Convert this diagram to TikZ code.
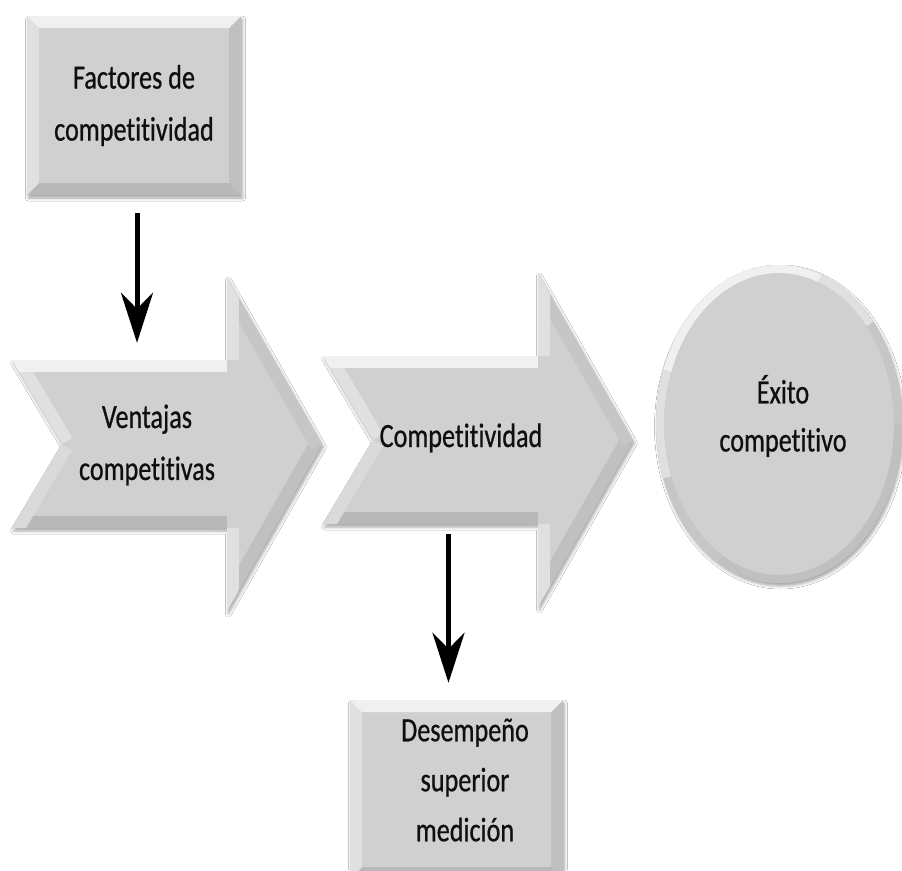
\documentclass[tikz,border=0pt]{standalone}
\usepackage{fontspec}
\setmainfont{Carlito}[FakeStretch=0.77, FakeBold=0.6, Ligatures=CommonOff]
\usetikzlibrary{arrows.meta,shapes.geometric,shadows.blur}
\definecolor{fillg}{RGB}{208,208,208}
\definecolor{bvtop}{RGB}{240,240,240}
\definecolor{bvleft}{RGB}{224,224,224}
\definecolor{bvlleft}{RGB}{218,218,218}
\definecolor{bvur}{RGB}{198,198,198}
\definecolor{bvright}{RGB}{192,192,192}
\definecolor{bvbot}{RGB}{184,184,184}
\definecolor{txt}{RGB}{15,15,15}
\tikzset{
  lbl/.style={font=\fontsize{34}{52}\selectfont, text=txt, align=center, inner sep=0pt},
  shad/.style={blur shadow={shadow xshift=1.5pt, shadow yshift=-3pt, shadow blur radius=3pt, shadow opacity=35}},
  bevelbox/.style={rectangle, fill=fillg, shad, inner sep=0pt, path picture={
      \fill[bvbot] (path picture bounding box.south west) -- (path picture bounding box.south east) -- ([shift={(-12pt,12pt)}]path picture bounding box.south east) -- ([shift={(12pt,12pt)}]path picture bounding box.south west) -- cycle;
      \fill[bvright] (path picture bounding box.north east) -- (path picture bounding box.south east) -- ([shift={(-12pt,12pt)}]path picture bounding box.south east) -- ([shift={(-12pt,-12pt)}]path picture bounding box.north east) -- cycle;
      \fill[bvleft] (path picture bounding box.north west) -- (path picture bounding box.south west) -- ([shift={(12pt,12pt)}]path picture bounding box.south west) -- ([shift={(12pt,-12pt)}]path picture bounding box.north west) -- cycle;
      \fill[bvtop] (path picture bounding box.north west) -- (path picture bounding box.north east) -- ([shift={(-12pt,-12pt)}]path picture bounding box.north east) -- ([shift={(12pt,-12pt)}]path picture bounding box.north west) -- cycle;
  }},
  bevelell/.style={ellipse, fill=fillg, shad, inner sep=0pt, path picture={
      \draw[bvright, line width=16pt] (path picture bounding box.center) ellipse [x radius=123pt, y radius=159pt];
      \draw[bvur, line width=16pt] ([shift={(0:123pt and 159pt)}]path picture bounding box.center) arc [start angle=0, end angle=240, x radius=123pt, y radius=159pt];
      \draw[bvleft, line width=16pt] ([shift={(40:123pt and 159pt)}]path picture bounding box.center) arc [start angle=40, end angle=200, x radius=123pt, y radius=159pt];
      \draw[bvtop, line width=16pt] ([shift={(70:123pt and 159pt)}]path picture bounding box.center) arc [start angle=70, end angle=160, x radius=123pt, y radius=159pt];
  }},
  conn/.style={line width=5pt, draw=black, -{Stealth[length=50pt,width=32pt,inset=16pt]}},
}
\newcommand\chevshape[1]{%
  \begin{scope}[shift={#1}]
    \path[fill=fillg, shad] (0,-84) -- (215,-84) -- (215,-167) -- (310,0) -- (215,167) -- (215,84) -- (0,84) -- (50,0) -- cycle;
    \begin{scope}
      \clip (0,-84) -- (215,-84) -- (215,-167) -- (310,0) -- (215,167) -- (215,84) -- (0,84) -- (50,0) -- cycle;
      \draw[bvbot, line width=24pt] (215,84) -- (0,84);
      \draw[bvright, line width=24pt] (310,0) -- (215,167);
      \draw[bvur, line width=24pt] (215,-167) -- (310,0);
      \draw[bvlleft, line width=24pt] (0,84) -- (50,0);
      \draw[bvleft, line width=24pt] (215,167) -- (215,84);
      \draw[bvleft, line width=24pt] (215,-84) -- (215,-167);
      \draw[bvleft, line width=24pt] (50,0) -- (0,-84);
      \draw[bvtop, line width=24pt] (0,-84) -- (215,-84);
    \end{scope}
  \end{scope}}
\begin{document}
\begin{tikzpicture}[x=1pt, y=-1pt]
  \fill[white] (0,0) rectangle (902,870);
  \useasboundingbox (0,0) rectangle (902,870);
  % top box
  \node[bevelbox, minimum width=214pt, minimum height=179pt, lbl] (fact) at (134,105.5) {Factores de\\competitividad};
  % chevrons
  \chevshape{(12,444)}
  \chevshape{(323,440)}
  \node[inner sep=0pt, minimum width=310pt, minimum height=168pt] (ventbody) at (167,444) {};
  \node[inner sep=0pt, minimum width=310pt, minimum height=168pt] (compbody) at (478,440) {};
  \node[lbl] (vent) at (147,445) {Ventajas\\competitivas};
  \node[lbl, anchor=base] (comp) at (461,447) {Competitividad};
  % ellipse
  \node[bevelell, minimum width=246pt, minimum height=318pt] (exito) at (779,424) {};
  \node[lbl, font=\fontsize{34}{48}\selectfont] (exitot) at (783,416) {Éxito\\competitivo};
  % bottom box
  \node[bevelbox, minimum width=213pt, minimum height=179pt] (desbox) at (456.5,789.5) {};
  \node[lbl, font=\fontsize{34}{50}\selectfont] (des) at (465,780) {Desempeño\\superior\\medición};
  % connectors
  \draw[conn, shorten <=18pt, shorten >=17pt] ([xshift=3pt]fact.south) -- ([xshift=3pt]fact.south |- ventbody.north);
  \draw[conn, shorten <=10pt, shorten >=17pt] ([xshift=-8pt]desbox.north |- compbody.south) -- ([xshift=-8pt]desbox.north);
\end{tikzpicture}
\end{document}
